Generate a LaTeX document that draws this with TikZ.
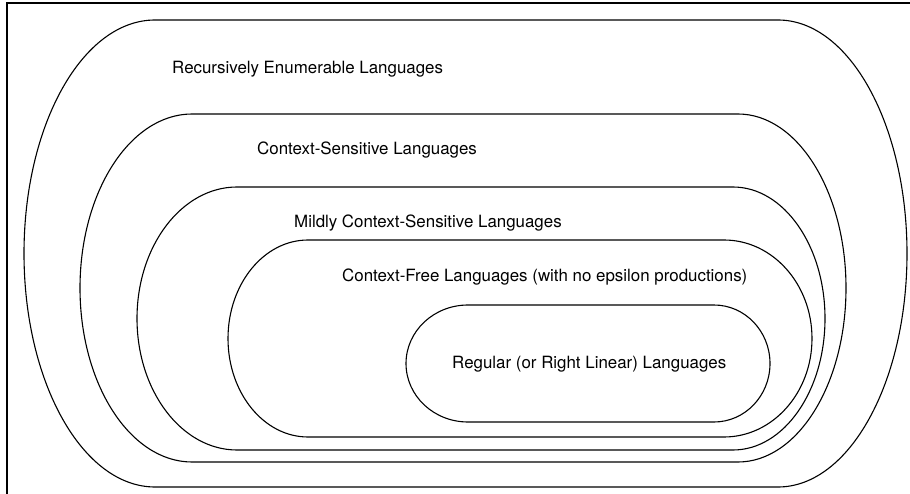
\documentclass[tikz,border=0pt]{standalone}
\usepackage{fontspec}
\setmainfont{TeX Gyre Heros}
\begin{document}
\begin{tikzpicture}[x=1pt,y=1pt,
  region/.style={draw=black,line width=1.1pt},
  label/.style={anchor=west,inner sep=0pt,font=\fontsize{16.9}{19}\selectfont}]
\useasboundingbox (0,0) rectangle (910,-494);
% frame
\draw[line width=2pt] (7,-494) -- (7,-3) -- (910,-3);
% stadium: xl, xsl, xsr, xr, yt, yb
\newcommand{\stadiumshape}[6]{%
  \pgfmathsetmacro{\hh}{(#6-#5)/2}%
  \pgfmathsetmacro{\rr}{#4-#3}%
  \pgfmathsetmacro{\rl}{#2-#1}%
  \draw[region] (#2,-#5) -- (#3,-#5)
    arc[start angle=90,end angle=-90,x radius=\rr,y radius=\hh]
    -- (#2,-#6)
    arc[start angle=270,end angle=90,x radius=\rl,y radius=\hh] -- cycle;}
\stadiumshape{24}{155}{778}{907}{20}{487}
\stadiumshape{80}{192}{738}{846}{114}{462}
\stadiumshape{137}{237}{733}{825}{187}{450}
\stadiumshape{228}{308}{724}{812}{240}{437}
\stadiumshape{406}{468}{714}{770}{305}{422}
\node[label] (re) at (172,-69) {Recursively Enumerable Languages};
\node[label] (cs) at (257,-150) {Context-Sensitive Languages};
\node[label] (mcs) at (294,-223) {Mildly Context-Sensitive Languages};
\node[label] (cf) at (342,-277) {Context-Free Languages (with no epsilon productions)};
\node[label] (reg) at (452,-364) {Regular (or Right Linear) Languages};
\end{tikzpicture}
\end{document}
